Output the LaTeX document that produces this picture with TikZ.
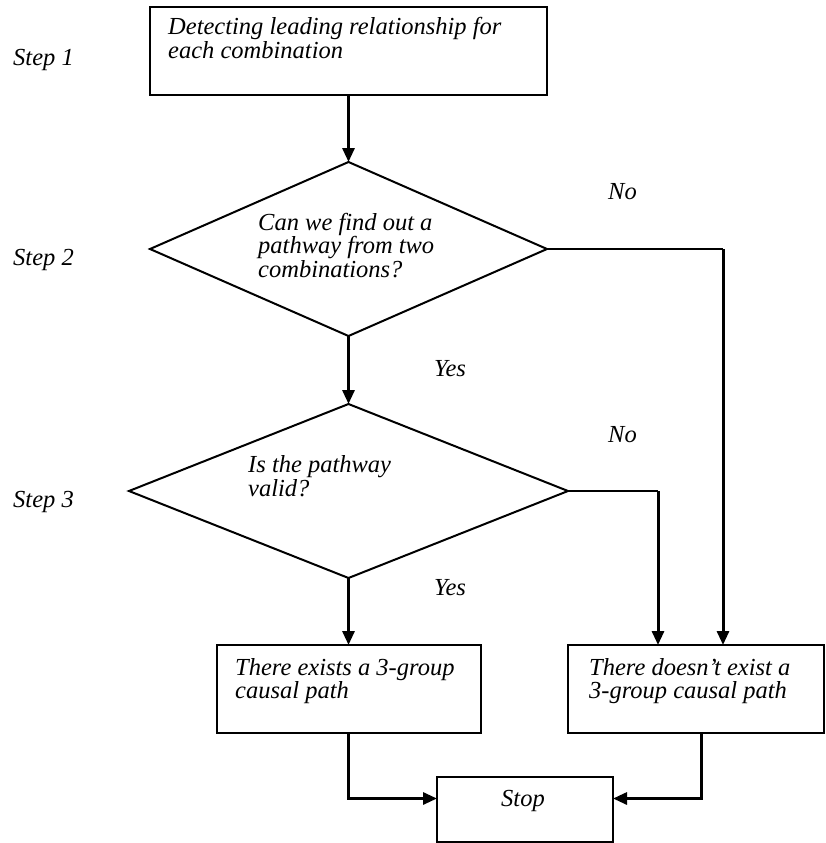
\documentclass[tikz,border=0pt]{standalone}
\usepackage{fontspec}
\setmainfont{Liberation Serif}
\usetikzlibrary{shapes.geometric,arrows.meta}
\begin{document}
\begin{tikzpicture}[x=1pt,y=-1pt,
  box/.style={draw,line width=2pt,rectangle,inner sep=0pt,outer sep=0pt,anchor=north west},
  dia/.style={draw,line width=2pt,diamond,inner sep=0pt,outer sep=0pt},
  txt/.style={font=\fontsize{24.5}{23.5}\selectfont\itshape,inner sep=0pt,align=left,anchor=base west},
  conn/.style={line width=3pt,-{Triangle[length=14pt,width=12pt]}},
  plain/.style={line width=2.2pt}]
\useasboundingbox (0,0) rectangle (826,843);
% shapes
\node[box,minimum width=397pt,minimum height=88pt] (b1) at (150,7) {};
\node[dia,minimum width=397pt,minimum height=174pt] (d1) at (348.5,249) {};
\node[dia,minimum width=439pt,minimum height=174pt] (d2) at (348.5,491) {};
\node[box,minimum width=264pt,minimum height=88pt] (b2) at (217,645) {};
\node[box,minimum width=256pt,minimum height=88pt] (b3) at (568,645) {};
\node[box,minimum width=176pt,minimum height=65pt] (stop) at (437,777) {};
% texts (anchored at the baseline of the last line)
\node[txt] (t1) at (168,58.5) {Detecting leading relationship for\\each combination};
\node[txt] (t2) at (258,277) {Can we find out a\\pathway from two\\combinations?};
\node[txt] (t3) at (248,496) {Is the pathway\\valid?};
\node[txt] (t4) at (235,698.5) {There exists a 3-group\\causal path};
\node[txt] (t5) at (589,698.5) {There doesn't exist a\\3-group causal path};
\node[txt] (t6) at (501,806) {Stop};
\node[txt] (s1) at (13,66) {Step 1};
\node[txt] (s2) at (13,265) {Step 2};
\node[txt] (s3) at (13,507) {Step 3};
\node[txt] (no1) at (608,199) {No};
\node[txt] (no2) at (608,442) {No};
\node[txt] (yes1) at (434,376) {Yes};
\node[txt] (yes2) at (434,595) {Yes};
% connectors
\draw[conn] (b1.south) -- (d1.north);
\draw[conn] (d1.south) -- (d2.north);
\draw[conn] (d2.south) -- (d2.south |- b2.north);
\draw[plain] (d1.east) -- ([xshift=155pt]b3.north west |- d1.east);
\draw[conn] ([xshift=155pt]b3.north west |- d1.east) -- ([xshift=155pt]b3.north west);
\draw[plain] (d2.east) -- ([xshift=90pt]b3.north west |- d2.east);
\draw[conn] ([xshift=90pt]b3.north west |- d2.east) -- ([xshift=90pt]b3.north west);
\draw[conn] (d2.south |- b2.south) |- ([yshift=11pt]stop.west);
\draw[conn] ([xshift=5.5pt]b3.south) |- ([yshift=11pt]stop.east);
\end{tikzpicture}
\end{document}
